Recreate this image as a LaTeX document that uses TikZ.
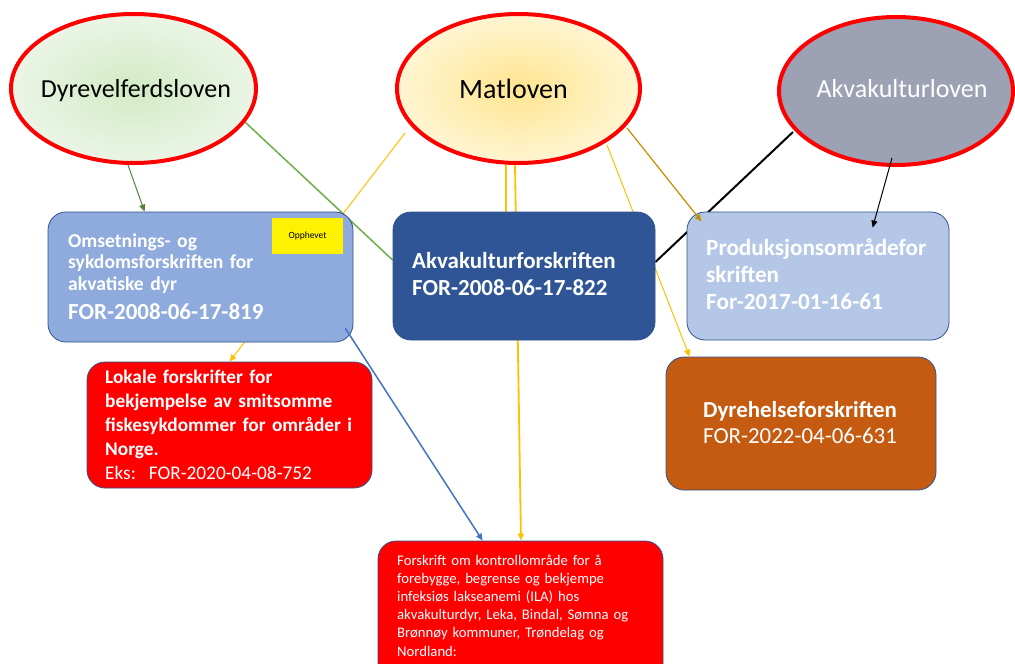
\documentclass[tikz,border=0pt]{standalone}
\usepackage{fontspec}
\setmainfont{Carlito}
\usetikzlibrary{shapes.geometric,arrows.meta,calc,backgrounds}
\definecolor{lawred}{HTML}{FF0000}
\definecolor{greenin}{HTML}{D2EBC4}
\definecolor{greenout}{HTML}{EBF5E6}
\definecolor{matin}{HTML}{FFE590}
\definecolor{matout}{HTML}{FFF5D2}
\definecolor{akvgray}{HTML}{9DA1B4}
\definecolor{omsblue}{HTML}{8FAADC}
\definecolor{akvfblue}{HTML}{2F5597}
\definecolor{prodblue}{HTML}{B4C7E7}
\definecolor{boxedge}{HTML}{2F528F}
\definecolor{lokred}{HTML}{FF0000}
\definecolor{dyrehbrown}{HTML}{C55A11}
\definecolor{yel}{HTML}{FFC000}
\definecolor{gold}{HTML}{BF9000}
\definecolor{greenA}{HTML}{548235}
\definecolor{greenB}{HTML}{70AD47}
\definecolor{linkblue}{HTML}{4472C4}
\begin{document}
\begin{tikzpicture}[x=1pt,y=-1pt,
  law/.style={ellipse, draw=lawred, line width=4pt, inner sep=0pt},
  box/.style={rectangle, rounded corners=18pt, draw=boxedge, line width=0.8pt, inner sep=0pt},
  txt/.style={anchor=base west, inner sep=0pt, align=left, text=white},
  lawtxt/.style={anchor=base, inner sep=0pt, font=\fontsize{26}{30}\selectfont},
  tip/.style={-{Triangle[length=7pt,width=6pt]}},
]
\useasboundingbox (0,0) rectangle (1015,664);
\clip (0,0) rectangle (1015,664);

% laws
\node[law, inner color=greenin, outer color=greenout, minimum width=245pt, minimum height=149pt] (dyre) at (133.5,88.5) {};
\node[law, inner color=matin, outer color=matout, minimum width=243pt, minimum height=149pt] (mat) at (518.5,88.5) {};
\node[law, fill=akvgray, minimum width=234pt, minimum height=148pt] (akv) at (896,91) {};
\node[lawtxt] (dyre-t) at (136,97) {Dyrevelferdsloven};
\node[lawtxt, font=\fontsize{28}{32}\selectfont] (mat-t) at (513.5,98) {Matloven};
\node[lawtxt, text=white] (akv-t) at (902,97) {Akvakulturloven};

% boxes
\node[box, fill=omsblue, minimum width=305pt, minimum height=130pt] (oms) at (200.5,277) {};
\node[box, fill=akvfblue, minimum width=262pt, minimum height=128pt] (akvf) at (524,276) {};
\node[box, fill=prodblue, minimum width=262pt, minimum height=128pt] (prod) at (818,276) {};
\node[box, fill=lokred, minimum width=285pt, minimum height=126pt] (lok) at (229.5,425) {};
\node[box, fill=dyrehbrown, minimum width=270pt, minimum height=133pt] (dyreh) at (801,423.5) {};
\node[box, fill=lokred, minimum width=285pt, minimum height=158pt] (forsk) at (520.5,620) {};
\node[fill=yellow, minimum width=71pt, minimum height=36pt, inner sep=0pt, font=\fontsize{9.5}{11}\selectfont] (opph) at (307.5,236) {Opphevet};

% texts
\node[txt, text width=290pt, font=\bfseries\fontsize{19.6}{21.5}\selectfont] (oms-t) at (68,247)
  {Omsetnings- og\\sykdomsforskriften for\\akvatiske dyr\\[7.5pt]{\fontsize{23}{27}\selectfont FOR-2008-06-17-819}};
\node[txt, text width=240pt, font=\bfseries\fontsize{23}{27}\selectfont] (akvf-t) at (412,268)
  {Akvakulturforskriften\\FOR-2008-06-17-822};
\node[txt, text width=240pt, font=\bfseries\fontsize{23.2}{27}\selectfont] (prod-t) at (706,255)
  {Produksjonsområdefor\\skriften\\For-2017-01-16-61};
\node[txt, text width=240pt, font=\fontsize{22.9}{26}\selectfont] (dyreh-t) at (703,417)
  {{\bfseries Dyrehelseforskriften}\\FOR-2022-04-06-631};
\node[txt, text width=270pt, font=\bfseries\fontsize{19.3}{24}\selectfont] (lok-t) at (105,383)
  {Lokale forskrifter for\\bekjempelse av smitsomme\\fiskesykdommer for områder i\\Norge.\\{\mdseries Eks:\ \ FOR-2020-04-08-752}};
\node[txt, text width=265pt, font=\fontsize{14.7}{18.2}\selectfont] (forsk-t) at (397,565)
  {Forskrift om kontrollområde for å\\forebygge, begrense og bekjempe\\infeksiøs lakseanemi (ILA) hos\\akvakulturdyr, Leka, Bindal, Sømna og\\Brønnøy kommuner, Trøndelag og\\Nordland:};

% connectors behind boxes
\begin{scope}[on background layer]
\draw[yel, line width=1pt, tip] ($(mat.center)+(-113.5,44.5)$) -- ($(lok.north west)+(143,0)$);
\draw[yel, line width=1.5pt] ($(mat.south)+(-12.5,0)$) -- ($(akvf.north)+(-18,0)$);
\draw[yel, line width=1.8pt, tip] ($(mat.south)+(-3.5,0)$) -- ($(forsk.north)+(0.5,0)$);
\draw[yel, line width=1pt, tip] ($(mat.center)+(88.5,56.5)$) -- ($(dyreh.north west)+(24,0)$);
\draw[greenB, line width=1.5pt] ($(dyre.center)+(111.5,33.5)$) -- ($(akvf.west)+(0,-16)$);
\draw[black, line width=2pt] ($(akv.center)+(-103,41)$) -- ($(akvf.east)+(0,-14)$);
\end{scope}

% connectors in front
\draw[greenA, line width=1pt, tip] ($(dyre.south)+(-5.5,0)$) -- ($(oms.north west)+(97,0)$);
\draw[gold, line width=1.2pt, tip] ($(mat.center)+(108.5,39.5)$) -- ($(prod.north west)+(15,10)$);
\draw[black, line width=1pt, tip] ($(akv.center)+(-4,67)$) -- ($(prod.north west)+(186,16)$);
\draw[linkblue, line width=1.5pt, tip] ($(oms.south east)+(-8,-14)$) -- ($(forsk.north west)+(105,0)$);
\end{tikzpicture}
\end{document}
